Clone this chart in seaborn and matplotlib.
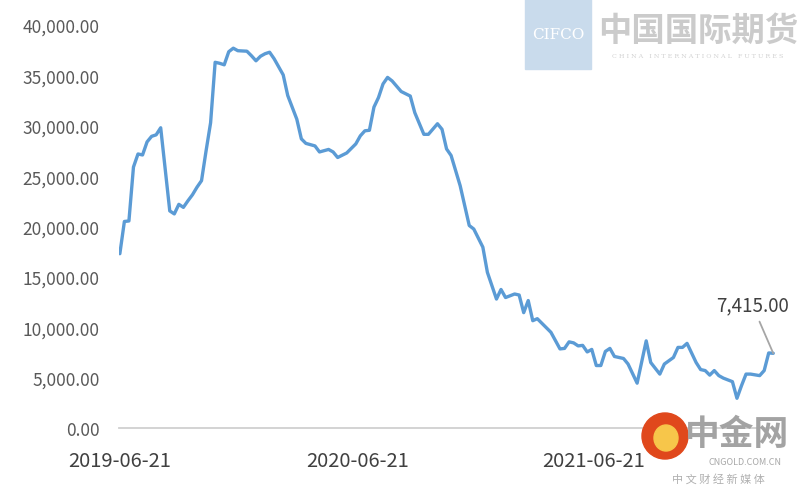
import pandas as pd
import matplotlib.pyplot as plt
import matplotlib.ticker as mticker
from matplotlib.patches import Rectangle, Ellipse
import seaborn as sns

# ------------------------------------------------------------------
# Dados (semanas desde 2019-06-21, valor)
# ------------------------------------------------------------------
inicio = "2019-06-21"
semanas = [0, 1, 2, 3, 4, 5, 6, 7, 8, 9, 11, 12, 13, 14, 15, 16, 17, 18, 19, 20,
           21, 22, 23, 24, 25, 26, 28, 29, 30, 31, 32, 33, 34, 36, 37, 39, 40, 41,
           43, 44, 46, 47, 48, 50, 52, 53, 54, 55, 56, 57, 58, 59, 60, 62, 64, 65,
           67, 68, 70, 71, 72, 73, 75, 77, 78, 80, 81, 83, 84, 85, 87, 88, 89, 90,
           91, 92, 95, 97, 98, 99, 100, 101, 102, 103, 104, 105, 106, 107, 108,
           109, 111, 112, 114, 116, 117, 119, 120, 122, 123, 124, 125, 127, 128,
           129, 130, 131, 132, 133, 135, 136, 137, 138, 139, 141, 142, 143, 144]
valores = [17300, 20500, 20550, 25900, 27200, 27100, 28400, 28950, 29100, 29800,
           21550, 21250, 22200, 21900, 22550, 23150, 23900, 24550, 27500, 30300,
           36300, 36200, 36050, 37350, 37700, 37450, 37400, 36950, 36450, 36900,
           37150, 37300, 36650, 35050, 33000, 30650, 28700, 28250, 28000, 27400,
           27650, 27400, 26850, 27300, 28200, 29000, 29500, 29550, 31850, 32800,
           34150, 34800, 34450, 33400, 32950, 31300, 29150, 29150, 30200, 29650,
           27700, 27050, 24050, 20100, 19750, 17950, 15450, 12800, 13750, 12950,
           13300, 13200, 11450, 12650, 10650, 10850, 9500, 7850, 7900, 8550,
           8450, 8150, 8200, 7550, 7800, 6200, 6200, 7600, 7900, 7100,
           6900, 6350, 4450, 8650, 6500, 5350, 6350, 7000, 8000, 8000,
           8400, 6500, 5800, 5700, 5250, 5700, 5200, 4950, 4600, 2950,
           4200, 5350, 5350, 5200, 5700, 7450, 7415]

ticks_x = ["2019-06-21", "2020-06-21", "2021-06-21"]

df = pd.DataFrame({
    "data": pd.Timestamp(inicio) + pd.to_timedelta([s * 7 for s in semanas], unit="D"),
    "valor": valores,
})

# ------------------------------------------------------------------
# Estilo
# ------------------------------------------------------------------
sns.set_theme(style="white")
plt.rcParams["font.family"] = ["Noto Sans CJK SC", "DejaVu Sans"]

fig = plt.figure(figsize=(8, 4.89), dpi=100)
ax = fig.add_axes([0.149, 0.1227, 0.82, 0.8241])

sns.lineplot(data=df, x="data", y="valor", color="#5B9BD5", linewidth=2.4, ax=ax)

ax.set_ylim(0, 40000)
ax.set_xlim(pd.Timestamp("2019-06-20"), pd.Timestamp("2022-03-28"))
ax.yaxis.set_major_locator(mticker.MultipleLocator(5000))
ax.yaxis.set_major_formatter(mticker.FuncFormatter(lambda v, p: f"{v:,.2f}"))
ax.set_xticks(pd.to_datetime(ticks_x))
ax.set_xticklabels(ticks_x)
ax.set_xlabel("")
ax.set_ylabel("")

for lado in ["top", "right", "left"]:
    ax.spines[lado].set_visible(False)
ax.spines["bottom"].set_color("#d0d0d0")
ax.spines["bottom"].set_linewidth(1.3)
ax.tick_params(axis="y", length=0, pad=14, labelsize=12.5, labelcolor="#595959")
ax.tick_params(axis="x", length=5, width=1.2, color="#d0d0d0", pad=11,
               labelsize=14.5, labelcolor="#404040")

# Rótulo do último valor
ultimo = df.iloc[-1]
ax.annotate(f"{ultimo['valor']:,.2f}", xy=(ultimo["data"], ultimo["valor"]),
            xytext=(-15, 27), textcoords="offset points", ha="center", va="bottom",
            fontsize=13.5, color="#404040",
            arrowprops=dict(arrowstyle="-", color="#a6a6a6", lw=1.3, shrinkA=2, shrinkB=0))

# ------------------------------------------------------------------
# Marcas d'água
# ------------------------------------------------------------------
fig.patches.append(Rectangle((525 / 800, 1 - 70 / 489), 66 / 800, 70 / 489,
                             transform=fig.transFigure, color="#c9dbec", zorder=0))
fig.text(558 / 800, 1 - 35 / 489, "CIFCO", color="white", fontsize=11,
         family="DejaVu Serif", ha="center", va="center")
fig.text(698 / 800, 1 - 31 / 489, "中国国际期货", color="#cbcbcb", fontsize=24,
         ha="center", va="center", fontweight="bold")
fig.text(698 / 800, 1 - 57 / 489, "C H I N A   I N T E R N A T I O N A L   F U T U R E S",
         color="#d2d2d2", fontsize=4.6, family="DejaVu Serif", ha="center", va="center")

fig.patches.append(Ellipse((665 / 800, 1 - 437 / 489), 46 / 800, 46 / 489,
                           transform=fig.transFigure, color="#e0481c", zorder=5))
fig.patches.append(Ellipse((666 / 800, 1 - 439 / 489), 24 / 800, 26 / 489,
                           transform=fig.transFigure, color="#f7c64a", zorder=6))
fig.text(737 / 800, 1 - 435 / 489, "中金网", color="#a3a3a3", fontsize=25,
         ha="center", va="center", fontweight="bold", zorder=7)
fig.text(745 / 800, 1 - 463 / 489, "CNGOLD.COM.CN", color="#a8a8a8", fontsize=6.5,
         ha="center", va="center", zorder=7)
fig.text(718 / 800, 1 - 479 / 489, "中 文 财 经 新 媒 体", color="#b0b0b0", fontsize=8,
         ha="center", va="center", zorder=7)

plt.savefig("out.png", dpi=100)
